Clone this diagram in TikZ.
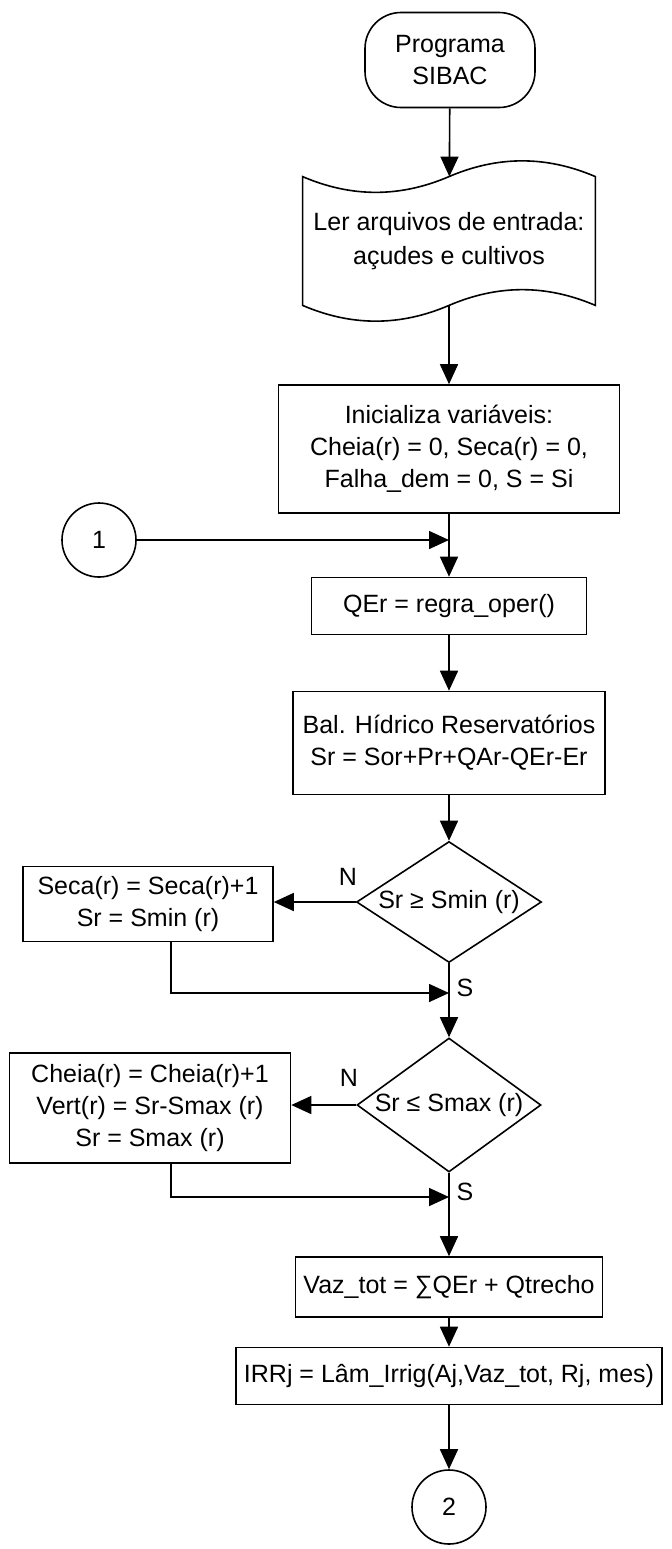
\documentclass[tikz,border=0pt]{standalone}
\usepackage{fontspec}
\setmainfont{Liberation Sans}
\usetikzlibrary{positioning,arrows.meta,shapes.geometric}

\begin{document}
\begin{tikzpicture}[x=0.5pt,y=-0.5pt,
        base/.style={draw,line width=0.8pt,align=center,font=\fontsize{12.5}{16}\selectfont},
        term/.style={base,rectangle,rounded corners=18pt},
        doc/.style={rectangle,align=center,font=\fontsize{12.5}{17}\selectfont},
        proc/.style={base,rectangle,inner xsep=4pt},
        dec/.style={base,diamond,inner sep=0pt,aspect=1.5},
        conn/.style={base,circle,minimum size=37pt,inner sep=0pt},
        lbl/.style={font=\fontsize{12.5}{16}\selectfont},
        arrow/.style={-{Triangle[length=10pt,width=9pt]},line width=0.8pt}]
        \useasboundingbox (0,0) rectangle (672,1549);
        \node[term,minimum width=85pt,minimum height=47.5pt] (start) at (450,60) {Programa\\SIBAC};
        \node[doc,minimum width=146pt,minimum height=64pt] (read) at (449,241) {Ler arquivos de entrada:\\açudes e cultivos};
        % wavy document outline
        \draw[line width=0.8pt] (read.north west) .. controls +(49,21) and +(-49,21) .. (read.north)
            .. controls +(49,-21) and +(-49,-21) .. (read.north east) -- (read.south east)
            .. controls +(-49,-21) and +(49,-21) .. (read.south)
            .. controls +(-49,21) and +(49,21) .. (read.south west) -- cycle;
        \node[proc,minimum width=170.5pt,minimum height=64pt] (init) at (449,449) {Inicializa variáveis:\\Cheia(r) = 0, Seca(r) = 0,\\Falha\_dem = 0, S = Si};
        \node[conn] (c1) at (99,540) {1};
        \node[proc,minimum width=137.5pt,minimum height=28.5pt] (qer) at (449,606) {QEr = regra\_oper()};
        \node[proc,minimum width=156pt,minimum height=51.5pt] (bal) at (449,743) {Bal. Hídrico Reservatórios\\Sr = Sor+Pr+QAr-QEr-Er};
        \node[dec,minimum width=92.5pt,minimum height=60.5pt] (d1) at (449,902) {Sr ≥ Smin (r)};
        \node[proc,minimum width=125pt,minimum height=37.5pt] (seca) at (148,904) {Seca(r) = Seca(r)+1\\Sr = Smin (r)};
        \node[dec,minimum width=92pt,minimum height=67pt] (d2) at (449,1105) {Sr ≤ Smax (r)};
        \node[proc,minimum width=140.5pt,minimum height=55pt] (cheia) at (150,1108) {Cheia(r) = Cheia(r)+1\\Vert(r) = Sr-Smax (r)\\Sr = Smax (r)};
        \node[proc,minimum height=30pt] (vaz) at (449,1287) {Vaz\_tot = ∑QEr + Qtrecho};
        \node[proc,minimum height=28.5pt] (irr) at (449,1376) {IRRj = Lâm\_Irrig(Aj,Vaz\_tot, Rj, mes)};
        \node[conn] (c2) at (449,1507) {2};
        \coordinate (j0) at (init.south |- c1);
        \coordinate (j1) at (449,993);
        \coordinate (j2) at (449,1197);
        \draw[arrow] (start) -- (read);
        \draw[arrow] (read) -- (init);
        \draw[arrow] (c1) -- (j0);
        \draw[arrow] (init) -- (qer);
        \draw[arrow] (qer) -- (bal);
        \draw[arrow] (bal) -- (d1);
        \draw[arrow] (d1.west) -- (d1.west -| seca.east);
        \node[lbl] (n1) at (348,877) {N};
        \draw[arrow] ([xshift=11.5pt]seca.south) |- (j1);
        \node[lbl] (s1) at (465,988) {S};
        \draw[arrow] (d1) -- (d2);
        \draw[arrow] (d2.west) -- (d2.west -| cheia.east);
        \node[lbl] (n2) at (349,1078) {N};
        \draw[arrow] ([xshift=10.5pt]cheia.south) |- (j2);
        \node[lbl] (s2) at (465,1192) {S};
        \draw[arrow] (d2) -- (vaz);
        \draw[arrow] (vaz) -- (irr);
        \draw[arrow] (irr) -- (c2);
    \end{tikzpicture}
\end{document}
